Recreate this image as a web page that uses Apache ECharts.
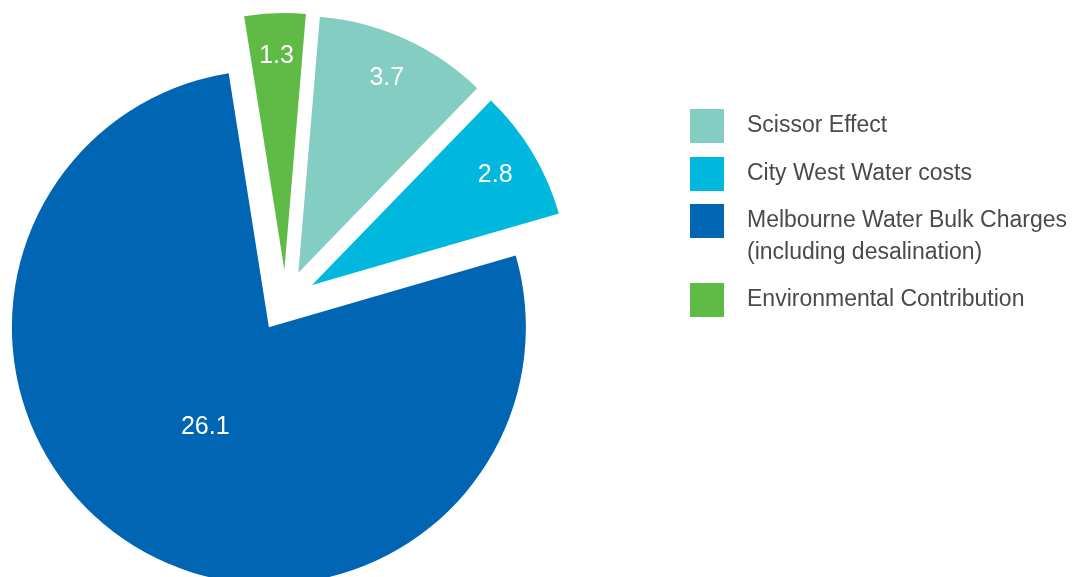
<!DOCTYPE html>
<html>
<head>
<meta charset="utf-8">
<script src="https://cdn.jsdelivr.net/npm/echarts@6/dist/echarts.min.js"></script>
<style>
html,body{margin:0;padding:0;background:#fff;}
#chart{width:1073px;height:577px;}
</style>
</head>
<body>
<div id="chart"></div>
<script>
// Data (clockwise from top)
const categories = ['Environmental Contribution', 'Scissor Effect', 'City West Water costs', 'Melbourne Water Bulk Charges'];
const values = [1.3, 3.7, 2.8, 26.1];
const colors = ['#60BB46', '#84CDC2', '#00B8DE', '#0065B3'];
const legendGroups = [
  ['Scissor Effect', 'City West Water costs'],
  ['Melbourne Water Bulk Charges'],
  ['Environmental Contribution']
];
const legendSubtitle = { 'Melbourne Water Bulk Charges': '(including desalination)' };
const outerLabelIdx = [0, 1, 2];
const innerLabelIdx = [3];

const CENTER = [285.5, 301];
const R = 257;
const OFFSET = 31;
const FONT = "'Liberation Sans', Arial, Helvetica, sans-serif";

const chart = echarts.init(document.getElementById('chart'), null, { renderer: 'canvas' });

const baseData = categories.map((n, i) => ({
  name: n, value: values[i], selected: true,
  itemStyle: { color: colors[i] }
}));

function labelData(showIdx) {
  return categories.map((n, i) => ({
    name: n, value: values[i], selected: true,
    itemStyle: { color: 'rgba(0,0,0,0)' },
    label: { show: showIdx.indexOf(i) >= 0 }
  }));
}

const pieCommon = {
  type: 'pie',
  center: CENTER,
  startAngle: 99,
  clockwise: true,
  selectedMode: 'multiple',
  selectedOffset: OFFSET,
  avoidLabelOverlap: false,
  animation: false,
  emphasis: { disabled: true },
  labelLine: { show: false }
};

const legendText = {
  fontFamily: FONT, fontSize: 23, color: '#4a4a4a',
  padding: [0, 0, 0, 18]
};

const option = {
  animation: false,
  legend: [
    {
      data: legendGroups[0], orient: 'vertical', left: 690, top: 109, padding: 0,
      itemWidth: 34, itemHeight: 34, itemGap: 14, icon: 'rect', selectedMode: false,
      textStyle: legendText
    },
    {
      data: legendGroups[1], orient: 'vertical', left: 690, top: 173, padding: 0,
      itemWidth: 34, itemHeight: 34, icon: 'rect', selectedMode: false,
      // leading blank line keeps the first text line level with the colour box
      formatter: name => legendSubtitle[name] ? '\n' + name + '\n' + legendSubtitle[name] : name,
      textStyle: Object.assign({}, legendText, { lineHeight: 32 })
    },
    {
      data: legendGroups[2], orient: 'vertical', left: 690, top: 283, padding: 0,
      itemWidth: 34, itemHeight: 34, icon: 'rect', selectedMode: false,
      textStyle: legendText
    }
  ],
  series: [
    Object.assign({}, pieCommon, {
      name: 'main',
      radius: [0, R],
      label: { show: false },
      data: baseData
    }),
    Object.assign({}, pieCommon, {
      name: 'outerLabels',
      radius: [R * 0.64, R],
      silent: true,
      label: {
        show: true, position: 'inside', formatter: '{c}',
        color: '#fff', fontFamily: FONT, fontSize: 25, textBorderWidth: 0
      },
      data: labelData(outerLabelIdx)
    }),
    Object.assign({}, pieCommon, {
      name: 'innerLabels',
      radius: [0, R * 0.9],
      silent: true,
      label: {
        show: true, position: 'inside', formatter: '{c}',
        color: '#fff', fontFamily: FONT, fontSize: 25, textBorderWidth: 0
      },
      data: labelData(innerLabelIdx)
    })
  ]
};
chart.setOption(option);
</script>
</body>
</html>
